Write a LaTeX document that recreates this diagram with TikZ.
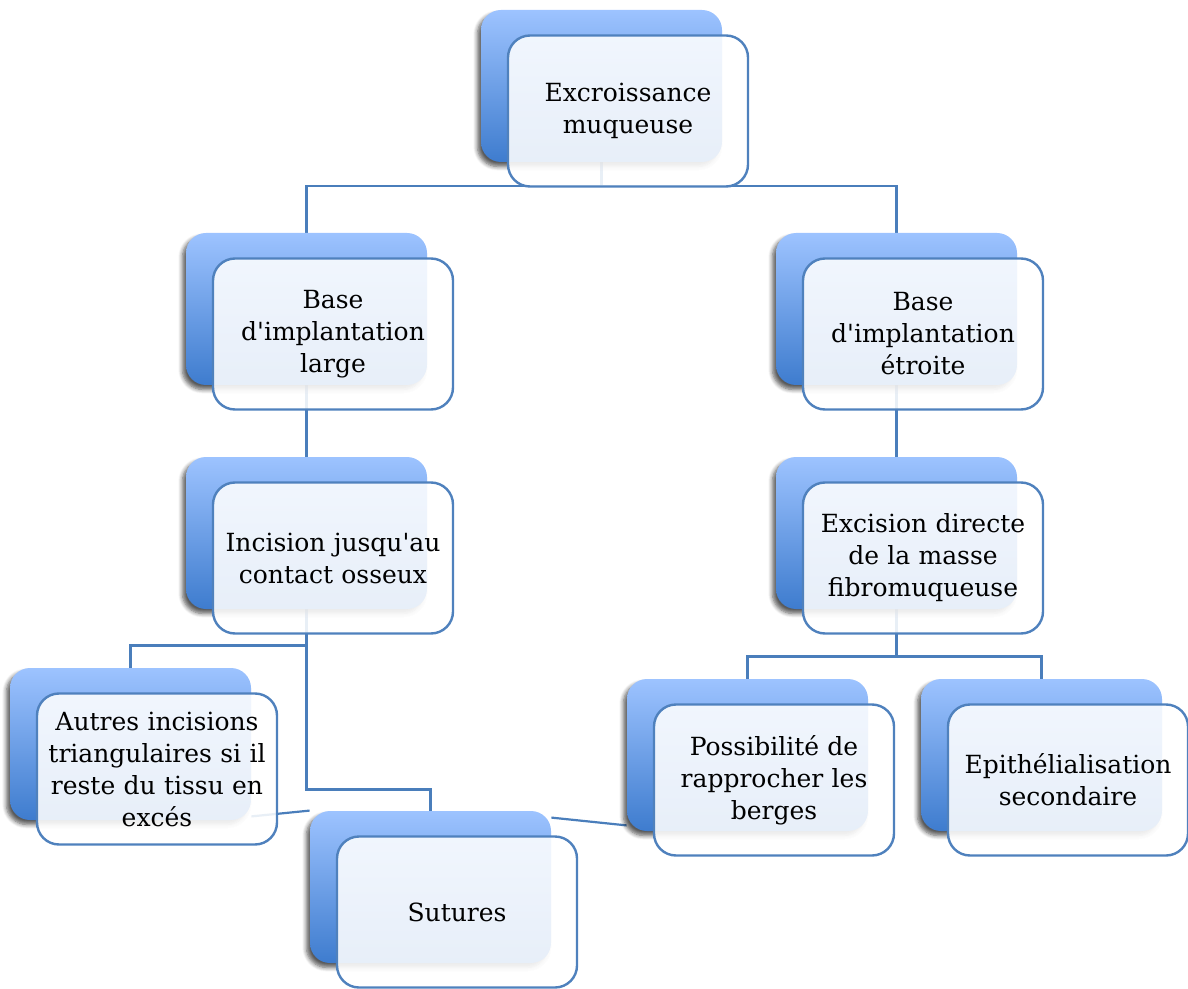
\documentclass[tikz,border=0pt]{standalone}
\usepackage{fontspec}
\setmainfont{DejaVu Serif}
\usetikzlibrary{shadows.blur,backgrounds}
\definecolor{boxtop}{RGB}{157,195,255}
\definecolor{boxbottom}{RGB}{62,124,206}
\definecolor{frame}{RGB}{79,129,189}
\definecolor{linkblue}{RGB}{74,126,187}
\newcommand{\apos}{\textquotesingle}
\begin{document}
\begin{tikzpicture}[x=0.5pt, y=-0.5pt,
		back/.style = {shape=rectangle, rounded corners=10pt,
			minimum width=120.5pt, minimum height=76pt, inner sep=0pt,
			top color=boxtop, bottom color=boxbottom,
			blur shadow={shadow xshift=-1.8pt, shadow yshift=-2.2pt,
				shadow opacity=65, shadow blur steps=6}},
		front/.style = {shape=rectangle, rounded corners=11pt,
			draw=frame, line width=1.2pt, fill=white, fill opacity=0.88,
			text opacity=1, minimum width=120pt, minimum height=75.5pt,
			inner sep=0pt, align=center, text width=116pt,
			font=\fontsize{12.5}{16}\selectfont,
			xshift=13.25pt, yshift=-12.5pt},
		link/.style = {draw=linkblue, line width=1.1pt}]
	\useasboundingbox (0,0) rectangle (1188,989);
	% back boxes
	\node[back] (topB) at (601.5,86) {};
	\node[back] (largeB) at (306.5,309) {};
	\node[back] (etroiteB) at (896.5,309) {};
	\node[back] (incisionB) at (306.5,533) {};
	\node[back] (excisionB) at (896.5,533) {};
	\node[back] (autresB) at (130.5,744) {};
	\node[back] (suturesB) at (430.5,887) {};
	\node[back] (bergesB) at (747.5,755) {};
	\node[back] (epithB) at (1041.5,755) {};
	% front boxes
	\node[front] (topF) at (topB) {Excroissance\\muqueuse};
	\node[front] (largeF) at (largeB) {Base\\d\apos implantation\\large};
	\node[front] (etroiteF) at (etroiteB) {Base\\d\apos implantation\\étroite};
	\node[front] (incisionF) at (incisionB) {Incision jusqu\apos au\\contact osseux};
	\node[front] (excisionF) at (excisionB) {Excision directe\\de la masse\\fibromuqueuse};
	\node[front] (autresF) at (autresB) {Autres incisions\\triangulaires si il\\reste du tissu en\\excés};
	\node[front] (suturesF) at (suturesB) {Sutures};
	\node[front] (bergesF) at (bergesB) {Possibilité de\\rapprocher les\\berges};
	\node[front] (epithF) at (epithB) {Epithélialisation\\secondaire};
	% connectors
	\begin{scope}[on background layer]
		\draw[link] (topB.south) -- ++(0,24) -| (largeB.north);
		\draw[link] (topB.south) -- ++(0,24) -| (etroiteB.north);
		\draw[link] (largeB.south) -- (incisionB.north);
		\draw[link] (etroiteB.south) -- (excisionB.north);
		\draw[link] (incisionB.south) -- ++(0,36) -| (autresB.north);
		\draw[link] (incisionB.south) -- ++(0,180) -| (suturesB.north);
		\draw[link] (excisionB.south) -- ++(0,47) -| (bergesB.north);
		\draw[link] (excisionB.south) -- ++(0,47) -| (epithB.north);
		\draw[link] ([yshift=2pt]autresB.south east) -- (suturesB.north west);
		\draw[link] ([yshift=-3.5pt]suturesB.north east) -- ([yshift=3pt]bergesB.south west);
	\end{scope}
\end{tikzpicture}
\end{document}
